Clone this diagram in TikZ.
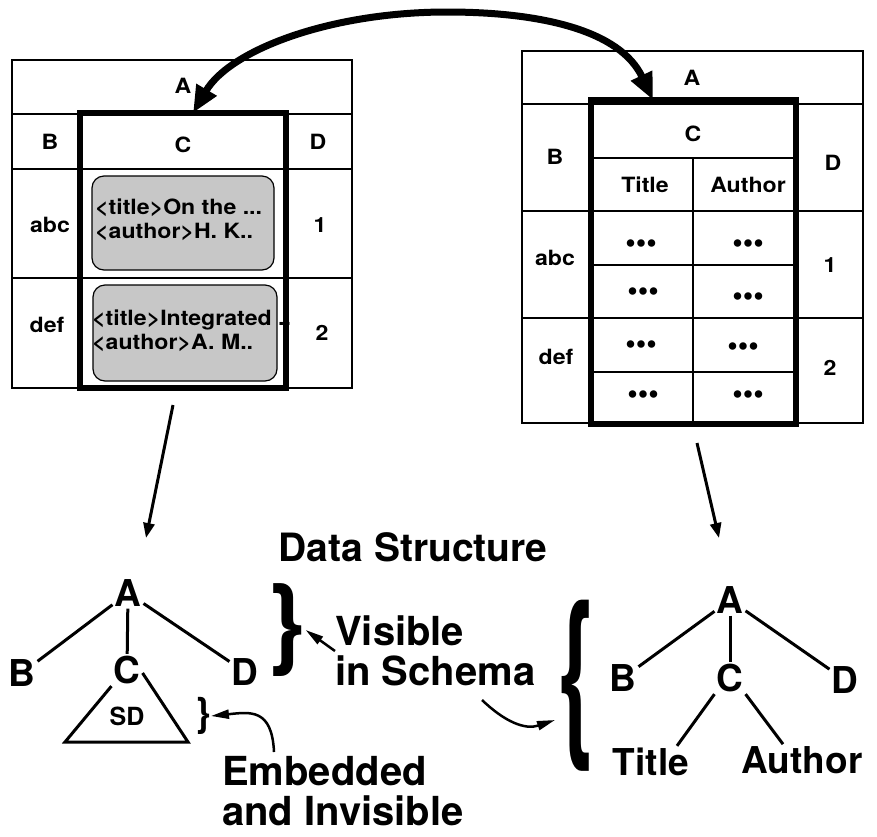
\documentclass[tikz,border=0pt]{standalone}
\usepackage{fontspec}
\usepackage{graphicx}
\setmainfont{TeX Gyre Heros}
\newfontfamily\wfont[FakeStretch=1.1]{TeX Gyre Heros}
\usetikzlibrary{arrows.meta}
\begin{document}
\begin{tikzpicture}[x=1pt,y=-1pt,
  thin line/.style={line width=1.2pt},
  tbl/.style={draw, line width=1.2pt, inner sep=0pt, outer sep=0pt},
  colbox/.style={draw, line width=5.5pt, inner sep=0pt, outer sep=0pt},
  graybox/.style={draw, line width=1.2pt, fill=black!22, rounded corners=12pt, inner sep=0pt},
  tt/.style={font=\wfont\bfseries\fontsize{21}{24}\selectfont, inner sep=0pt},
  dotsx/.style={font=\bfseries\fontsize{30}{30}\selectfont, inner sep=0pt, anchor=base},
  tree/.style={font=\bfseries\fontsize{37}{40}\selectfont, inner sep=2pt},
  lab/.style={font=\bfseries\fontsize{40}{40}\selectfont, align=left, inner sep=0pt},
  treeline/.style={line width=3pt},
  bigarrow/.style={line width=7pt, {Triangle[length=27pt,width=22pt]}-{Triangle[length=27pt,width=22pt]}},
  downarrow/.style={line width=3pt, -{Triangle[length=15pt,width=11pt]}},
  smallarrow/.style={line width=2.5pt, -{Triangle[length=18pt,width=9pt]}},
  bracenode/.style={inner sep=0pt},
]
\useasboundingbox (0,0) rectangle (877,836);

% ---------------- left table ----------------
\node[tbl, minimum width=340pt, minimum height=328pt] (LT) at (182,224) {};
\draw[thin line] (12,114) -- (352,114) (12,169) -- (352,169) (12,278) -- (352,278)
  (80,114) -- (80,388) (286,114) -- (286,388);
\node[graybox, minimum width=182pt, minimum height=94pt] (G1) at (183,223) {};
\node[graybox, minimum width=184pt, minimum height=96pt] (G2) at (185,333) {};
\node[colbox, minimum width=206pt, minimum height=275pt] (LC) at (183,250.5) {};
\node[tt] (lA) at (183,86) {A};
\node[tt] (lB) at (50,142) {B};
\node[tt] (lC) at (183,145) {C};
\node[tt] (lD) at (318,142) {D};
\node[tt] (labc) at (50,225) {abc};
\node[tt] (l1) at (320,225) {1};
\node[tt] (ldef) at (47,325) {def};
\node[tt] (l2) at (322,333) {2};
\node[tt, align=left, anchor=west] (g1t) at (95,220) {<title>On the ...\\<author>H. K..};
\node[tt, align=left, anchor=west] (g2t) at (92,330.5) {<title>Integrated ..\\<author>A. M..};

% ---------------- right table ----------------
\node[tbl, minimum width=341pt, minimum height=372pt] (RT) at (692.5,237) {};
\draw[thin line] (522,104) -- (863,104) (522,211) -- (863,211) (522,318) -- (863,318)
  (591,158) -- (796,158) (591,265) -- (796,265) (591,372) -- (796,372)
  (693,158) -- (693,423);
\node[colbox, minimum width=205pt, minimum height=324pt] (RC) at (693.5,262) {};
\node[tt] (rA) at (692,78) {A};
\node[tt] (rCh) at (693,134) {C};
\node[tt] (rB) at (555,157) {B};
\node[tt] (rD) at (833,163) {D};
\node[tt] (rTi) at (645,185) {Title};
\node[tt] (rAu) at (748,185) {Author};
\node[tt] (rabc) at (555,258) {abc};
\node[tt] (r1) at (830,265) {1};
\node[tt] (rdef) at (556,357) {def};
\node[tt] (r2) at (830,368) {2};
\node[dotsx] (d11) at (641,252.8) {•••};
\node[dotsx] (d12) at (748,252.8) {•••};
\node[dotsx] (d21) at (643,300.8) {•••};
\node[dotsx] (d22) at (748,305.8) {•••};
\node[dotsx] (d31) at (641,353.8) {•••};
\node[dotsx] (d32) at (743,355.8) {•••};
\node[dotsx] (d41) at (643,403.8) {•••};
\node[dotsx] (d42) at (748,403.8) {•••};

% ---------------- connecting arrow ----------------
\draw[bigarrow] ([xshift=10pt]LC.north) .. controls (230,50) and (330,12) .. (447,12)
  .. controls (540,12) and (620,30) .. ([xshift=-40.5pt]RC.north);

% ---------------- down arrows ----------------
\coordinate (d1s) at (173,405);
\coordinate (d1e) at (146,538);
\coordinate (d2s) at (697,443);
\coordinate (d2e) at (719,538);
\draw[downarrow] (d1s) -- (d1e);
\draw[downarrow] (d2s) -- (d2e);

\node[font=\bfseries\fontsize{39}{40}\selectfont, inner sep=0pt] (ds) at (413,547) {Data Structure};

% ---------------- left tree ----------------
\node[tree] (tA) at (128,593) {A};
\node[tree] (tB) at (22,673) {B};
\node[tree] (tC) at (127,670) {C};
\node[tree] (tD) at (245,672) {D};
\draw[treeline] (tA) -- (tB);
\draw[treeline] (tA) -- (tC);
\draw[treeline] (tA) -- (tD);
\coordinate (tl) at (65,742);
\coordinate (tr) at (188,742);
\draw[treeline, line join=miter] (tC.south west) -- (tl) -- (tr) -- ([yshift=-3pt]tC.east);
\node[font=\bfseries\fontsize{25}{25}\selectfont, inner sep=0pt] (SD) at (127,716) {SD};

% braces and labels
\node[bracenode, font=\bfseries\fontsize{100}{100}\selectfont] (br1) at (286,630) {\}};
\node[bracenode, font=\bfseries\fontsize{40}{40}\selectfont] (br2) at (203,716) {\}};
\node[bracenode, font=\bfseries\fontsize{97}{97}\selectfont] (br3) at (577,686) {\scalebox{1}[1.9]{\{}};

\node[lab, anchor=west] (vis) at (335,651) {Visible\\in Schema};
\node[lab, anchor=west] (emb) at (222,791) {Embedded\\and Invisible};
\draw[smallarrow] (vis.west) -- (br1.east);
\coordinate (e1) at (274,752);
\draw[smallarrow] (e1) .. controls (272,708) and (250,712) .. (br2.east);
\coordinate (s1) at (482,700);
\coordinate (s2) at (555,720);
\draw[smallarrow] (s1) .. controls (505,722) and (525,730) .. (s2);

% ---------------- right tree ----------------
\node[tree] (uA) at (730,600) {A};
\node[tree] (uB) at (623,678) {B};
\node[tree] (uC) at (730,678) {C};
\node[tree] (uD) at (845,680) {D};
\node[tree] (uT) at (651,762) {Title};
\node[tree] (uAu) at (802,760) {Author};
\draw[treeline] (uA) -- (uB);
\draw[treeline] (uA) -- (uC);
\draw[treeline] (uA) -- (uD);
\draw[treeline] (uC.south west) -- ([xshift=26pt]uT.north);
\draw[treeline] (uC.south east) -- ([xshift=-19pt]uAu.north);
\end{tikzpicture}
\end{document}
